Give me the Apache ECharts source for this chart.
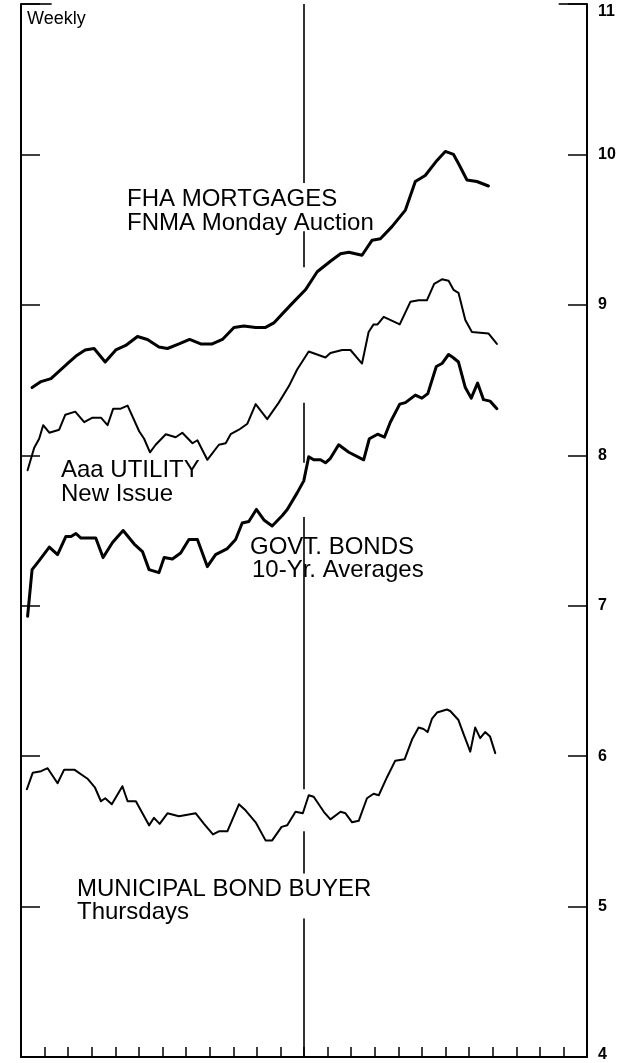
<!DOCTYPE html>
<html>
<head>
<meta charset="utf-8">
<title>Weekly yields</title>
<script src="https://cdn.jsdelivr.net/npm/echarts@6/dist/echarts.min.js"></script>
<style>
  html, body { margin: 0; padding: 0; background: #fff; }
  #yieldChart { width: 630px; height: 1063px; }
</style>
</head>
<body>
<div id="yieldChart"></div>
<script>
// x positions are months from the left edge of the chart (24 monthly ticks)
const fhaMonths = [0.47, 0.85, 1.27, 1.62, 2.04, 2.33, 2.72, 3.10, 3.57, 4.02, 4.44, 4.94, 5.36, 5.85, 6.21, 6.70,
  7.15, 7.62, 8.11, 8.54, 9.03, 9.45, 9.95, 10.37, 10.72, 11.08, 11.50, 12.06, 12.56, 13.12, 13.55, 13.90,
  14.46, 14.89, 15.24, 15.73, 16.30, 16.72, 17.14, 17.64, 17.99, 18.34, 18.55, 18.91, 19.33, 19.82];
const fhaRates = [8.45, 8.49, 8.51, 8.56, 8.62, 8.66, 8.70, 8.71, 8.62, 8.70, 8.73, 8.79, 8.77, 8.72, 8.71, 8.74,
  8.77, 8.74, 8.74, 8.77, 8.85, 8.86, 8.85, 8.85, 8.88, 8.94, 9.01, 9.10, 9.22, 9.29, 9.34, 9.35,
  9.33, 9.43, 9.44, 9.52, 9.63, 9.82, 9.86, 9.96, 10.02, 10.00, 9.94, 9.83, 9.82, 9.79];

const aaaMonths = [0.28, 0.56, 0.77, 0.94, 1.20, 1.62, 1.88, 2.30, 2.68, 3.03, 3.39, 3.67, 3.91, 4.23, 4.52, 5.01,
  5.22, 5.47, 5.71, 6.14, 6.56, 6.84, 7.27, 7.48, 7.90, 8.39, 8.68, 8.89, 9.24, 9.60, 9.95, 10.44,
  10.93, 11.36, 11.71, 12.20, 12.91, 13.12, 13.62, 13.97, 14.46, 14.74, 14.95, 15.12, 15.38, 16.06, 16.51, 16.86,
  17.21, 17.52, 17.85, 18.13, 18.34, 18.55, 18.84, 19.12, 19.82, 20.18];
const aaaRates = [7.90, 8.05, 8.11, 8.20, 8.15, 8.17, 8.27, 8.29, 8.22, 8.25, 8.25, 8.20, 8.31, 8.31, 8.33, 8.16,
  8.11, 8.02, 8.07, 8.14, 8.12, 8.15, 8.08, 8.10, 7.97, 8.07, 8.08, 8.14, 8.17, 8.21, 8.34, 8.24,
  8.35, 8.46, 8.57, 8.69, 8.65, 8.68, 8.70, 8.70, 8.61, 8.82, 8.87, 8.87, 8.92, 8.87, 9.02, 9.03,
  9.03, 9.14, 9.17, 9.16, 9.10, 9.08, 8.90, 8.82, 8.81, 8.74];

const govtMonths = [0.28, 0.47, 0.77, 1.20, 1.55, 1.90, 2.12, 2.33, 2.54, 3.17, 3.48, 3.88, 4.33, 4.80, 5.15, 5.43,
  5.85, 6.07, 6.42, 6.77, 7.12, 7.48, 7.90, 8.25, 8.75, 9.10, 9.38, 9.66, 9.98, 10.30, 10.65, 11.08,
  11.29, 11.71, 11.99, 12.20, 12.41, 12.70, 12.91, 13.12, 13.47, 13.90, 14.53, 14.77, 15.12, 15.41, 15.66, 16.06,
  16.30, 16.72, 17.00, 17.25, 17.61, 17.85, 18.13, 18.32, 18.55, 18.84, 19.09, 19.36, 19.61, 19.89, 20.18];
const govtRates = [6.93, 7.24, 7.30, 7.39, 7.34, 7.46, 7.46, 7.48, 7.45, 7.45, 7.32, 7.42, 7.50, 7.41, 7.36, 7.24,
  7.22, 7.32, 7.31, 7.35, 7.44, 7.44, 7.26, 7.34, 7.38, 7.44, 7.55, 7.56, 7.64, 7.57, 7.53, 7.60,
  7.64, 7.75, 7.83, 7.99, 7.97, 7.97, 7.95, 7.98, 8.07, 8.02, 7.97, 8.11, 8.14, 8.12, 8.22, 8.34,
  8.35, 8.40, 8.38, 8.41, 8.59, 8.61, 8.67, 8.65, 8.62, 8.45, 8.38, 8.48, 8.37, 8.36, 8.31];

const muniMonths = [0.25, 0.50, 0.85, 1.13, 1.55, 1.83, 2.26, 2.82, 3.14, 3.39, 3.57, 3.85, 4.30, 4.52, 4.87, 5.43,
  5.64, 5.88, 6.21, 6.70, 7.41, 7.76, 8.14, 8.39, 8.75, 9.24, 9.52, 9.95, 10.37, 10.65, 11.05, 11.29,
  11.64, 11.95, 12.20, 12.41, 12.84, 13.12, 13.55, 13.76, 14.04, 14.32, 14.67, 14.95, 15.17, 15.52, 15.87, 16.27,
  16.58, 16.86, 17.07, 17.24, 17.43, 17.64, 18.06, 18.20, 18.55, 18.76, 19.05, 19.26, 19.47, 19.68, 19.89, 20.11];
const muniRates = [5.78, 5.89, 5.90, 5.92, 5.82, 5.91, 5.91, 5.85, 5.79, 5.70, 5.72, 5.68, 5.80, 5.70, 5.70, 5.54,
  5.59, 5.55, 5.62, 5.60, 5.62, 5.55, 5.48, 5.50, 5.50, 5.68, 5.64, 5.56, 5.44, 5.44, 5.53, 5.54,
  5.63, 5.62, 5.74, 5.73, 5.63, 5.58, 5.63, 5.62, 5.56, 5.57, 5.72, 5.75, 5.74, 5.86, 5.97, 5.98,
  6.11, 6.19, 6.18, 6.16, 6.25, 6.29, 6.31, 6.30, 6.24, 6.15, 6.03, 6.19, 6.12, 6.16, 6.13, 6.02];

// the year divider is broken where labels and lines cross it
const dividerMonth = 12;
const dividerPieces = [[11, 9.81], [9.49, 9.25], [8.35, 7.95], [7.59, 5.78], [5.50, 5.22], [4.92, 4]];

const toPairs = (xs, ys) => xs.map((x, i) => [x, ys[i]]);
const font = '"Liberation Sans", Arial, sans-serif';

const chart = echarts.init(document.getElementById('yieldChart'));

const lineSeries = (name, xs, ys, width) => ({
  name: name,
  type: 'line',
  data: toPairs(xs, ys),
  showSymbol: false,
  symbol: 'none',
  lineStyle: { color: '#000', width: width, join: 'round', cap: 'round' },
  z: 3
});

const fha = lineSeries('FHA', fhaMonths, fhaRates, 3);
fha.markLine = {
  silent: true,
  symbol: ['none', 'none'],
  label: { show: false },
  lineStyle: { color: '#000', width: 1.6, type: 'solid' },
  data: dividerPieces.map(p => [{ coord: [dividerMonth, p[0]] }, { coord: [dividerMonth, p[1]] }])
    .concat([
      [{ coord: [0, 11] }, { coord: [1.3, 11] }],
      [{ coord: [22.8, 11] }, { coord: [24, 11] }]
    ])
};

const label = (text, left, top) => ({
  type: 'text', left: left, top: top,
  style: { text: text, font: '24px ' + font, fill: '#000' }
});

const option = {
  animation: false,
  backgroundColor: '#fff',
  grid: { left: 21, right: 43, top: 4, bottom: 6 },
  xAxis: {
    type: 'value',
    min: 0,
    max: 24,
    interval: 1,
    axisLine: { onZero: false, lineStyle: { color: '#000', width: 2 } },
    axisTick: { inside: true, length: 10, lineStyle: { color: '#000', width: 1.5 } },
    axisLabel: { show: false },
    splitLine: { show: false }
  },
  yAxis: [
    {
      type: 'value',
      position: 'right',
      min: 4,
      max: 11,
      interval: 1,
      axisLine: { show: true, onZero: false, lineStyle: { color: '#000', width: 2 } },
      axisTick: { inside: true, length: 19, lineStyle: { color: '#000', width: 1.5 } },
      axisLabel: {
        margin: 11,
        color: '#000',
        fontFamily: font,
        fontSize: 16,
        fontWeight: 'bold',
        formatter: v => v === 11 ? '{top|11}' : (v === 4 ? '{bot|4}' : String(v)),
        rich: {
          top: { fontFamily: font, fontSize: 16, color: '#000', fontWeight: 'bold', padding: [16, 0, 0, 0] },
          bot: { fontFamily: font, fontSize: 16, color: '#000', fontWeight: 'bold', padding: [0, 0, 4, 0] }
        }
      },
      splitLine: { show: false }
    },
    {
      type: 'value',
      position: 'left',
      min: 4,
      max: 11,
      interval: 1,
      axisLine: { show: true, onZero: false, lineStyle: { color: '#000', width: 2 } },
      axisTick: { inside: true, length: 19, lineStyle: { color: '#000', width: 1.5 } },
      axisLabel: { show: false },
      splitLine: { show: false }
    }
  ],
  graphic: [
    { type: 'text', left: 27, top: 10, style: { text: 'Weekly', font: '18px ' + font, fill: '#000' } },
    label('FHA MORTGAGES', 127, 187),
    label('FNMA Monday Auction', 127, 211),
    label('Aaa UTILITY', 61, 458),
    label('New Issue', 61, 482),
    label('GOVT. BONDS', 250, 535),
    label('10-Yr. Averages', 252, 558),
    label('MUNICIPAL BOND BUYER', 77, 877),
    label('Thursdays', 77, 900)
  ],
  series: [
    fha,
    lineSeries('Aaa', aaaMonths, aaaRates, 2),
    lineSeries('Govt', govtMonths, govtRates, 3),
    lineSeries('Municipal', muniMonths, muniRates, 2)
  ]
};

option && chart.setOption(option);
</script>
</body>
</html>
